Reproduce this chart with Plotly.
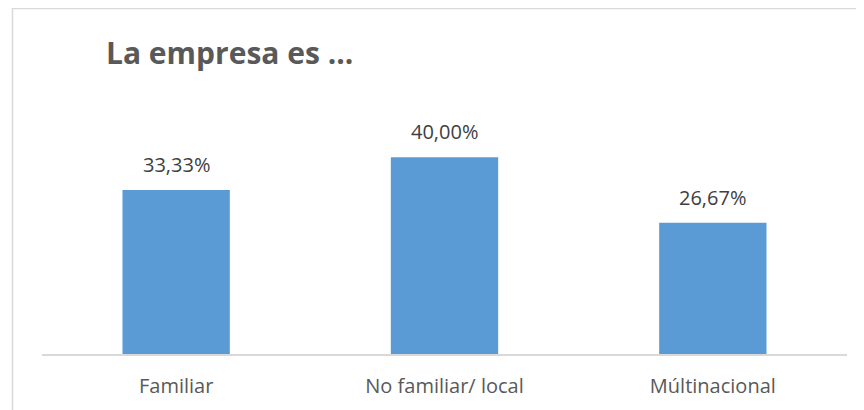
import plotly.graph_objects as go

categories = ["Familiar", "No familiar/ local", "Múltinacional"]
values = [33.33, 40.00, 26.67]
labels = ["33,33%", "40,00%", "26,67%"]
title_text = "La empresa es ..."

O = 8  # default page body margin
W, H = 864 - O, 410 - O
# reference pixel coordinates -> figure coordinates (minus O)
plot_left, plot_right, plot_top, plot_bottom = 42 - O, 847 - O, 108 - O, 354 - O
ml, mr, mt, mb = plot_left, W - plot_right, plot_top, H - plot_bottom
pw, ph = W - ml - mr, H - mt - mb

fig = go.Figure()
fig.add_trace(go.Bar(x=categories, y=values, marker_color="#5B9BD5",
                     marker_line_width=0, hoverinfo="skip"))

for c, v, t in zip(categories, values, labels):
    fig.add_annotation(x=c, y=v, text=t, showarrow=False, yanchor="bottom",
                       yshift=10, font=dict(family="Open Sans", size=20, color="#404040"))

def px_x(p):
    return (p - O - ml) / pw

def px_y(p):
    return (H - mb - (p - O)) / ph

fig.add_shape(type="rect", xref="paper", yref="paper",
              x0=px_x(12.5), x1=px_x(900), y0=px_y(440), y1=px_y(8.5),
              line=dict(color="#d9d9d9", width=1.5), fillcolor="rgba(0,0,0,0)", layer="below")

fig.update_layout(
    width=W, height=H,
    margin=dict(l=ml, r=mr, t=mt, b=mb, autoexpand=False),
    paper_bgcolor="white", plot_bgcolor="white",
    bargap=0.6, showlegend=False,
    title=dict(text="<b>" + title_text + "</b>", xref="container", yref="container",
               x=(106 - O) / W, xanchor="left", y=1 - (53 - O) / H, yanchor="middle",
               font=dict(family="Open Sans", size=30, color="#595959")),
    xaxis=dict(showline=True, linecolor="#d9d9d9", linewidth=1.5, showgrid=False,
               ticks="outside", ticklen=13, tickcolor="rgba(0,0,0,0)",
               tickfont=dict(family="Open Sans", size=20, color="#595959")),
    yaxis=dict(range=[0, 50], visible=False, showgrid=False, zeroline=False),
)

fig.write_html("out.html")
